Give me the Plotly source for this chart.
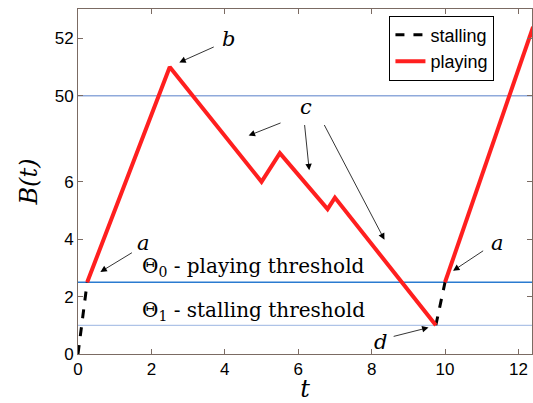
import plotly.graph_objects as go

# Display positions on the broken y axis (0..6 linear, then 50 -> 9, 52 -> 11)
y_tickvals = [0, 2, 4, 6, 9, 11]
y_ticktext = ["0", "2", "4", "6", "50", "52"]
x_tickvals = [0, 2, 4, 6, 8, 10, 12]

stall_t = [0.0, 0.25, None, 9.75, 10.0]
stall_b = [0.0, 2.5, None, 1.0, 2.5]

play_t = [0.25, 2.5, 5.0, 5.5, 6.8, 7.0, 9.75, None, 10.0, 12.4]
play_b = [2.5, 10.0, 6.0, 7.0, 5.05, 5.45, 1.0, None, 2.5, 11.4]

theta0 = 2.5
theta1 = 1.0
level50 = 9

# annotation labels: (text, x, y)
letters = [("a", 1.79, 3.86), ("b", 4.10, 10.96), ("c", 6.22, 8.59),
           ("a", 11.42, 3.86), ("d", 8.24, 0.43)]
# arrows: (tail_x, tail_y, head_x, head_y)
arrows = [(1.51, 3.56, 0.61, 2.86), (3.74, 10.72, 2.76, 10.16),
          (5.56, 8.07, 4.65, 7.61), (6.17, 8.03, 6.30, 6.40),
          (6.69, 8.03, 8.35, 3.98), (11.08, 3.63, 10.22, 2.90),
          (8.56, 0.60, 9.55, 0.92)]

AX = "#7b6b63"
SERIF = "DejaVu Serif"
SANS = "Liberation Sans"

fig = go.Figure()
fig.add_trace(go.Scatter(x=stall_t, y=stall_b, mode="lines", name="stalling",
                         line=dict(color="black", width=3, dash="dash")))
fig.add_trace(go.Scatter(x=play_t, y=play_b, mode="lines", name="playing",
                         line=dict(color="#ff1f1f", width=4)))

fig.add_hline(y=level50, line=dict(color="#8faadb", width=1.5), layer="below")
fig.add_hline(y=theta0, line=dict(color="#2a7bd0", width=1.5), layer="below")
fig.add_hline(y=theta1, line=dict(color="#9ab4e2", width=1), layer="below")

for txt, x, y in letters:
    fig.add_annotation(x=x, y=y, text=f"<i>{txt}</i>", showarrow=False,
                       font=dict(family=SERIF, size=21, color="black"))
for tx, ty, hx, hy in arrows:
    fig.add_annotation(x=hx, y=hy, ax=tx, ay=ty, axref="x", ayref="y",
                       text="", showarrow=True, arrowhead=2, arrowsize=1.6,
                       arrowwidth=0.8, arrowcolor="black")

fig.add_annotation(x=1.70, y=3.02, xanchor="left", showarrow=False,
                   text="Θ<sub>0</sub> - playing threshold",
                   font=dict(family=SERIF, size=20, color="black"))
fig.add_annotation(x=1.70, y=1.5, xanchor="left", showarrow=False,
                   text="Θ<sub>1</sub> - stalling threshold",
                   font=dict(family=SERIF, size=20, color="black"))

fig.update_xaxes(range=[0, 12.37], tickvals=x_tickvals, ticks="inside", ticklen=5,
                 tickcolor=AX, showline=True, linecolor=AX, linewidth=1,
                 mirror="ticks", showgrid=False, zeroline=False,
                 tickfont=dict(family=SANS, size=17, color="black"),
                 title=dict(text="<i>t</i>", font=dict(family=SERIF, size=24, color="black"),
                            standoff=2))
fig.update_yaxes(range=[0, 12.02], tickvals=y_tickvals, ticktext=y_ticktext,
                 ticks="inside", ticklen=5, tickcolor=AX, showline=True,
                 linecolor=AX, linewidth=1, mirror="ticks", showgrid=False,
                 zeroline=False,
                 tickfont=dict(family=SANS, size=17, color="black"),
                 title=dict(text="<i>B(t)</i>", font=dict(family=SERIF, size=24, color="black"),
                            standoff=10))

fig.update_layout(width=533, height=403, autosize=False,
                  margin=dict(l=78, r=1, t=9, b=49),
                  plot_bgcolor="white", paper_bgcolor="white",
                  legend=dict(x=0.686, y=0.981, xanchor="left", yanchor="top",
                              bgcolor="white", bordercolor="black", borderwidth=1,
                              font=dict(family=SANS, size=18, color="black"),
                              tracegroupgap=0))

fig.write_html("out.html", config={"displayModeBar": False},
               post_script="document.body.style.margin='0';document.body.style.overflow='hidden';")
